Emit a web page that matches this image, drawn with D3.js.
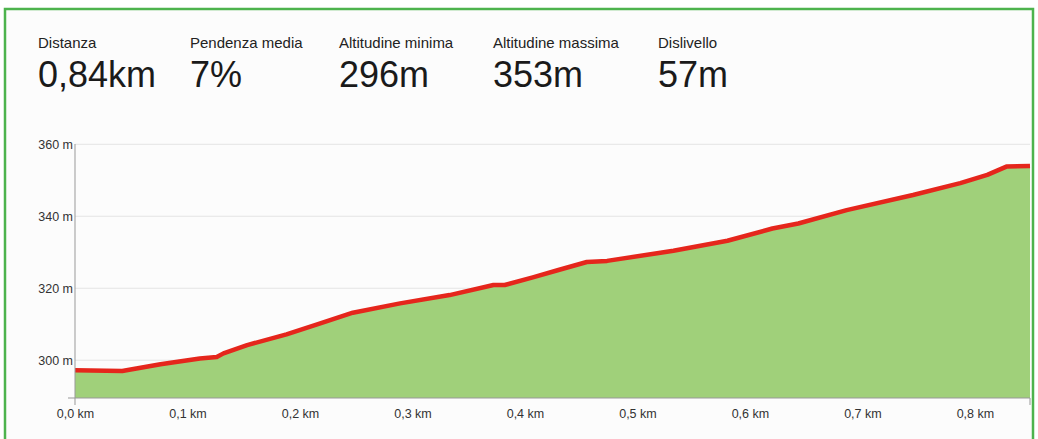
<!DOCTYPE html>
<html>
<head>
<meta charset="utf-8">
<script src="https://cdn.jsdelivr.net/npm/d3@7"></script>
<style>
  html, body { margin: 0; padding: 0; background: #ffffff; }
  svg { display: block; }
</style>
</head>
<body>
<svg id="chart" width="1038" height="439"></svg>
<script>
// ---- data ----
const statLabels = ["Distanza", "Pendenza media", "Altitudine minima", "Altitudine massima", "Dislivello"];
const statValues = ["0,84km", "7%", "296m", "353m", "57m"];
const distanceKm = [0.000, 0.042, 0.076, 0.111, 0.126, 0.132, 0.153, 0.188, 0.216, 0.247, 0.289, 0.333, 0.372, 0.382, 0.407, 0.429, 0.455, 0.473, 0.532, 0.580, 0.620, 0.643, 0.686, 0.745, 0.787, 0.811, 0.828, 0.849];
const elevationM = [297.2, 297.0, 298.9, 300.5, 300.9, 301.9, 304.2, 307.2, 310.0, 313.2, 315.8, 318.1, 320.9, 320.9, 323.0, 325.0, 327.3, 327.6, 330.4, 333.2, 336.6, 338.0, 341.7, 345.9, 349.2, 351.5, 353.8, 354.0];
const yTicks = [300, 320, 340, 360];
const xTicks = [0, 0.1, 0.2, 0.3, 0.4, 0.5, 0.6, 0.7, 0.8];

const svg = d3.select("#chart");
const FONT = "Liberation Sans, Arial, sans-serif";

// frame
svg.append("rect").attr("x", 5).attr("y", 9).attr("width", 1028).attr("height", 445)
  .attr("fill", "#fcfcfc").attr("stroke", "#4db34d").attr("stroke-width", 2.5);

// header stats
const statX = [38, 190, 339, 493, 658];
const stats = svg.append("g");
statLabels.forEach((l, i) => {
  stats.append("text").attr("x", statX[i]).attr("y", 48).text(l)
    .attr("font-family", FONT).attr("font-size", 15).attr("fill", "#222");
  stats.append("text").attr("x", statX[i]).attr("y", 87).text(statValues[i])
    .attr("font-family", FONT).attr("font-size", 36).attr("fill", "#1a1a1a");
});

// scales
const x = d3.scaleLinear().domain([0, 0.849]).range([75, 1030]);
const y = d3.scaleLinear().domain([289.5, 360]).range([398, 144.3]);

// grid
svg.append("g").selectAll("line").data(yTicks).join("line")
  .attr("x1", 75).attr("x2", 1030)
  .attr("y1", d => y(d)).attr("y2", d => y(d))
  .attr("stroke", "#e4e4e4").attr("stroke-width", 1);

const data = distanceKm.map((d, i) => ({ d, e: elevationM[i] }));

// area
svg.append("path").datum(data)
  .attr("d", d3.area().x(p => x(p.d)).y0(y(289.5)).y1(p => y(p.e)))
  .attr("fill", "#a0d07a");

// line
svg.append("path").datum(data)
  .attr("d", d3.line().x(p => x(p.d)).y(p => y(p.e)))
  .attr("fill", "none").attr("stroke", "#e5261c").attr("stroke-width", 4.5)
  .attr("stroke-linejoin", "round");

// y axis
const yAxis = svg.append("g").attr("transform", "translate(75,0)")
  .call(d3.axisLeft(y).tickValues(yTicks).tickSize(0).tickPadding(2).tickFormat(d => d + " m"));
yAxis.select(".domain").remove();
yAxis.append("line").attr("x1", 0).attr("x2", 0).attr("y1", 144).attr("y2", 405)
  .attr("stroke", "#999").attr("stroke-width", 1);
yAxis.selectAll("text").attr("font-family", FONT)
  .attr("font-size", 12.5).attr("fill", "#333");

// x axis
const xAxis = svg.append("g").attr("transform", "translate(0,398)")
  .call(d3.axisBottom(x).tickValues(xTicks).tickSize(0).tickPadding(11)
    .tickFormat(d => d3.format(".1f")(d).replace(".", ",") + " km"));
xAxis.select(".domain").remove();
xAxis.append("line").attr("x1", 68).attr("x2", 1030).attr("y1", 0).attr("y2", 0)
  .attr("stroke", "#999").attr("stroke-width", 1);
xAxis.append("line").attr("x1", 1030).attr("x2", 1030).attr("y1", 0).attr("y2", 7)
  .attr("stroke", "#999").attr("stroke-width", 1);
xAxis.selectAll("text").attr("font-family", FONT)
  .attr("font-size", 12.5).attr("fill", "#333");
</script>
</body>
</html>
